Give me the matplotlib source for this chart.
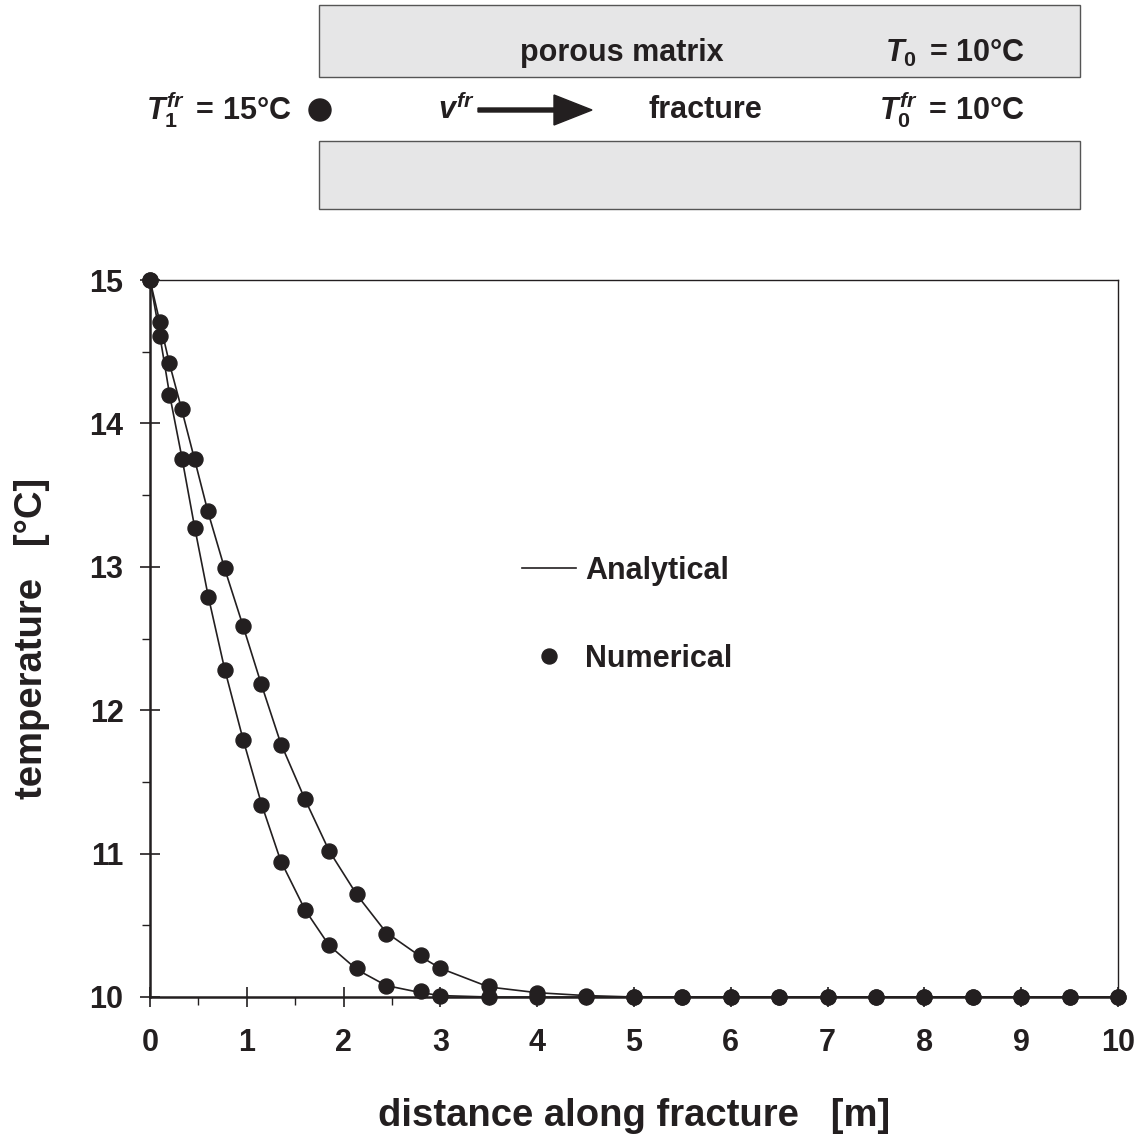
import matplotlib
matplotlib.use('Agg')
import matplotlib.pyplot as plt
from matplotlib.patches import Rectangle, Circle, FancyArrow

plt.rcParams['font.family'] = ['Liberation Sans', 'DejaVu Sans']
plt.rcParams['font.weight'] = 'bold'
plt.rcParams['mathtext.fontset'] = 'custom'
plt.rcParams['mathtext.it'] = 'Liberation Sans:italic:bold'
plt.rcParams['mathtext.rm'] = 'Liberation Sans:bold'

INK = '#231f20'

# distance along fracture [m]
dist = [0, 0.1, 0.2, 0.33, 0.46, 0.6, 0.77, 0.96, 1.15, 1.35, 1.6, 1.85,
        2.14, 2.44, 2.8, 3.0, 3.5, 4.0, 4.5, 5.0, 5.5, 6.0, 6.5, 7.0,
        7.5, 8.0, 8.5, 9.0, 9.5, 10.0]

# numerical results (two cases)
num_fast = [15.0, 14.61, 14.20, 13.75, 13.27, 12.79, 12.28, 11.79, 11.34,
            10.94, 10.61, 10.36, 10.20, 10.08, 10.04, 10.01, 10.00, 10.00,
            10.00, 10.00, 10.00, 10.00, 10.00, 10.00, 10.00, 10.00, 10.00,
            10.00, 10.00, 10.00]
num_slow = [15.0, 14.71, 14.42, 14.10, 13.75, 13.39, 12.99, 12.59, 12.18,
            11.76, 11.38, 11.02, 10.72, 10.44, 10.29, 10.20, 10.08, 10.03,
            10.01, 10.00, 10.00, 10.00, 10.00, 10.00, 10.00, 10.00, 10.00,
            10.00, 10.00, 10.00]

# analytical solution
ana_x = [0, 0.1, 0.2, 0.33, 0.46, 0.6, 0.77, 0.96, 1.15, 1.35, 1.6, 1.85,
         2.14, 2.44, 2.8, 3.0, 3.5, 4.0, 4.5, 5.0, 10.0]
ana_fast = [15.0, 14.62, 14.21, 13.76, 13.28, 12.80, 12.29, 11.80, 11.35,
            10.95, 10.61, 10.36, 10.19, 10.08, 10.03, 10.01, 10.00, 10.00,
            10.00, 10.00, 10.00]
ana_slow = [15.0, 14.71, 14.42, 14.09, 13.75, 13.38, 12.99, 12.59, 12.18,
            11.77, 11.38, 11.02, 10.71, 10.45, 10.28, 10.20, 10.07, 10.03,
            10.01, 10.00, 10.00]

W, H = 1145, 1148
fig = plt.figure(figsize=(W / 100, H / 100), dpi=100)

# ---- main plot
ax = fig.add_axes([150 / W, 1 - 997 / H, (1118 - 150) / W, (997 - 280) / H])
ax.plot(ana_x, ana_fast, color=INK, lw=1.2, label='Analytical', zorder=2)
ax.plot(ana_x, ana_slow, color=INK, lw=1.2, zorder=2)
ax.plot(dist, num_fast, 'o', color=INK, ms=10.8, label='Numerical', zorder=3,
        clip_on=False)
ax.plot(dist, num_slow, 'o', color=INK, ms=10.8, zorder=3, clip_on=False)

ax.set_xlim(0, 10)
ax.set_ylim(10, 15)
ax.set_xticks(range(0, 11))
ax.set_xticks([i + 0.5 for i in range(10)], minor=True)
ax.set_yticks(range(10, 16))
ax.set_yticks([10.5, 11.5, 12.5, 13.5, 14.5], minor=True)
ax.tick_params(which='major', direction='inout', length=14, width=1.2,
               labelsize=22, color=INK, labelcolor=INK)
ax.tick_params(which='minor', direction='out', length=6, width=1.0, color=INK)
ax.tick_params(axis='x', which='major', pad=15)
ax.tick_params(axis='y', which='major', pad=12)
for lbl in ax.get_xticklabels() + ax.get_yticklabels():
    lbl.set_fontweight('bold')
for side in ['left', 'bottom']:
    ax.spines[side].set_linewidth(1.8)
for side in ['top', 'right']:
    ax.spines[side].set_linewidth(1.0)
for sp in ax.spines.values():
    sp.set_color(INK)

ax.set_xlabel('distance along fracture   [m]', fontsize=27.5,
              fontweight='bold', color=INK)
ax.xaxis.set_label_coords(0.5, -0.141)
ax.set_ylabel('temperature   [°C]', fontsize=27.5, fontweight='bold',
              color=INK)
ax.yaxis.set_label_coords(-0.103, 0.5)

leg = ax.legend(loc='upper left', bbox_to_anchor=(0.372, 0.632),
                frameon=False, fontsize=22, handlelength=1.76,
                handletextpad=0.3, labelspacing=1.9, borderaxespad=0)
for t in leg.get_texts():
    t.set_fontweight('bold')
    t.set_color(INK)

# ---- schematic of fracture and matrix
sk = fig.add_axes([0, 1 - 230 / H, 1, 230 / H])
sk.set_xlim(0, W)
sk.set_ylim(230, 0)
sk.axis('off')
for y0, y1 in [(5, 77), (141, 209)]:
    sk.add_patch(Rectangle((319, y0), 1080 - 319, y1 - y0, facecolor='#e6e6e7',
                           edgecolor='#555555', lw=1.0))
fs = 22
sk.text(622, 53, 'porous matrix', fontsize=fs, fontweight='bold',
        ha='center', va='center', color=INK)
sk.text(1025, 53, r'$\mathit{T_0}\,$ = 10°C', fontsize=fs, fontweight='bold',
        ha='right', va='center', color=INK)
sk.text(292, 110, r'$\mathit{T_1^{fr}}\,$ = 15°C', fontsize=fs,
        fontweight='bold', ha='right', va='center', color=INK)
sk.add_patch(Circle((320, 110), 11, color=INK))
sk.text(475, 110, r'$\mathit{v^{fr}}$', fontsize=fs, ha='right',
        va='center', color=INK)
sk.add_patch(FancyArrow(478, 110, 114, 0, width=4, head_width=30,
                        head_length=38, length_includes_head=True, color=INK))
sk.text(705, 110, 'fracture', fontsize=fs, fontweight='bold',
        ha='center', va='center', color=INK)
sk.text(1025, 110, r'$\mathit{T_0^{fr}}\,$ = 10°C', fontsize=fs,
        fontweight='bold', ha='right', va='center', color=INK)

plt.savefig('out.png', dpi=100)
